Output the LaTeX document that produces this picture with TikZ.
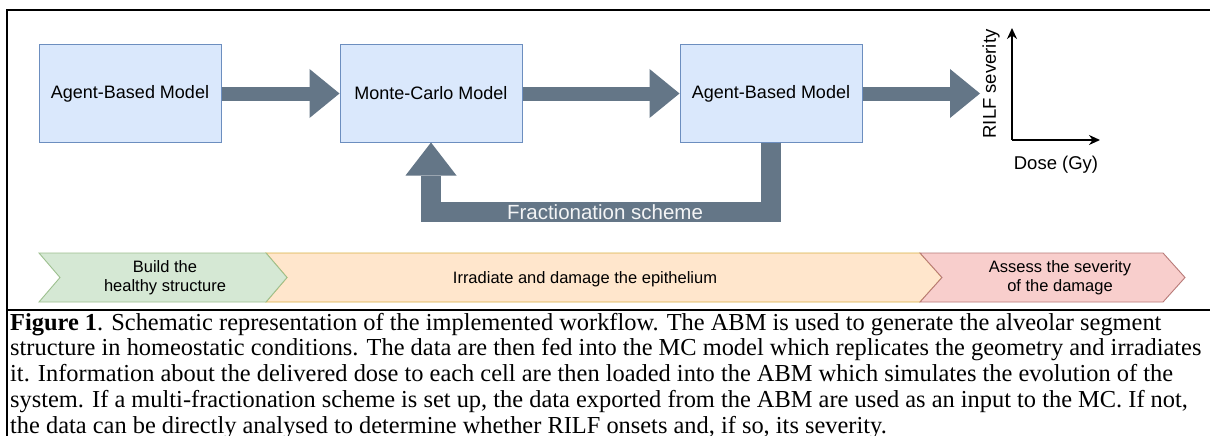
\documentclass[tikz,border=0pt]{standalone}
\usepackage{fontspec}
\setmainfont{Liberation Serif}
\newfontfamily\diagfont{Liberation Sans}
\usetikzlibrary{arrows.meta}

\definecolor{boxfill}{HTML}{DAE8FC}
\definecolor{boxline}{HTML}{6C8EBF}
\definecolor{slate}{HTML}{647687}
\definecolor{greenfill}{HTML}{D5E8D4}
\definecolor{greenline}{HTML}{9DC08F}
\definecolor{orangefill}{HTML}{FFE6CC}
\definecolor{orangeline}{HTML}{D8B040}
\definecolor{pinkfill}{HTML}{F8CECC}
\definecolor{pinkline}{HTML}{B87A78}

\tikzset{
  model/.style={draw=boxline, fill=boxfill, line width=1pt,
    minimum width=182pt, minimum height=97pt, inner sep=0pt,
    font=\diagfont\fontsize{18}{22}\selectfont},
  fat/.style={draw=slate, line width=14pt,
    -{Triangle[length=30pt,width=49pt,line width=0pt]}},
  fatloop/.style={draw=slate, line width=20pt, line join=miter,
    -{Triangle[length=33pt,width=51pt,line width=0pt]}},
  axisline/.style={draw=black, line width=1.6pt,
    -{Stealth[length=11pt,width=10pt]}},
  axislabel/.style={font=\diagfont\fontsize{18.5}{22}\selectfont, inner sep=0pt},
  steptext/.style={font=\diagfont\fontsize{16.5}{18.5}\selectfont, align=center, inner sep=0pt},
  frame/.style={draw=black, line width=2.4pt},
  captext/.style={font=\fontsize{24.4}{26}\selectfont, anchor=base west, inner sep=0pt}
}

\begin{document}
\begin{tikzpicture}[x=1pt, y=-1pt]
\useasboundingbox (0,0) rectangle (1210,436);
\fill[white] (0,0) rectangle (1210,436);

% outer rules of the figure cell
\draw[frame] (7,437) -- (7,10) -- (1211,10);
\draw[frame] (7,310) -- (1211,310);

% workflow blocks
\node[model] (abmA) at (130,93.5) {Agent-Based Model};
\node[model] (mc)   at (431,93.5) {Monte-Carlo Model};
\node[model] (abmB) at (771,93.5) {Agent-Based Model};

% result axes
\coordinate (origin) at (1012,140);
\coordinate (ytop)   at (1012,28);
\coordinate (xend)   at (1100,140);
\draw[axisline] (origin) -- (ytop);
\draw[axisline] (origin) -- (xend);
\node[axislabel, rotate=90] (ylab) at (991,84) {RILF severity};
\node[axislabel] (xlab) at (1056,165) {Dose (Gy)};

% main flow
\coordinate (plotin) at (980,93.5);
\draw[fat] (abmA.east) -- (mc.west);
\draw[fat] (mc.east) -- (abmB.west);
\draw[fat] (abmB.east) -- (plotin);

% fractionation loop back to the MC model
\coordinate (loopR) at (771,212);
\coordinate (loopL) at (431,212);
\draw[fatloop] (abmB.south) -- (loopR) -- (loopL) -- (mc.south);
\node[font=\diagfont\fontsize{20.5}{23}\selectfont, text=white!92!slate, inner sep=0pt]
  (frac) at (605,212) {Fractionation scheme};

% phase chevrons
\filldraw[fill=orangefill, draw=orangeline, line width=0.9pt]
  (266,253) -- (920,253) -- (942,277.5) -- (920,302) -- (266,302) -- (287,277.5) -- cycle;
\filldraw[fill=pinkfill, draw=pinkline, line width=0.9pt]
  (920,253) -- (1163,253) -- (1185,277.5) -- (1163,302) -- (920,302) -- (942,277.5) -- cycle;
\filldraw[fill=greenfill, draw=greenline, line width=0.9pt]
  (39,253) -- (266,253) -- (287,277.5) -- (266,302) -- (39,302) -- (60,277.5) -- cycle;
\node[steptext] (phase1) at (165,277.5) {Build the\\healthy structure};
\node[steptext] (phase2) at (585,279) {Irradiate and damage the epithelium};
\node[steptext] (phase3) at (1060,277.5) {Assess the severity\\of the damage};

% caption
\node[captext] (cap1) at (10,330) {\textbf{Figure 1}. Schematic representation of the implemented workflow. The ABM is used to generate the alveolar segment};
\node[captext] (cap2) at (10,355.75) {structure in homeostatic conditions. The data are then fed into the MC model which replicates the geometry and irradiates};
\node[captext] (cap3) at (10,381.5) {it. Information about the delivered dose to each cell are then loaded into the ABM which simulates the evolution of the};
\node[captext] (cap4) at (10,407.25) {system. If a multi-fractionation scheme is set up, the data exported from the ABM are used as an input to the MC. If not,};
\node[captext] (cap5) at (10,433) {the data can be directly analysed to determine whether RILF onsets and, if so, its severity.};
\end{tikzpicture}
\end{document}
